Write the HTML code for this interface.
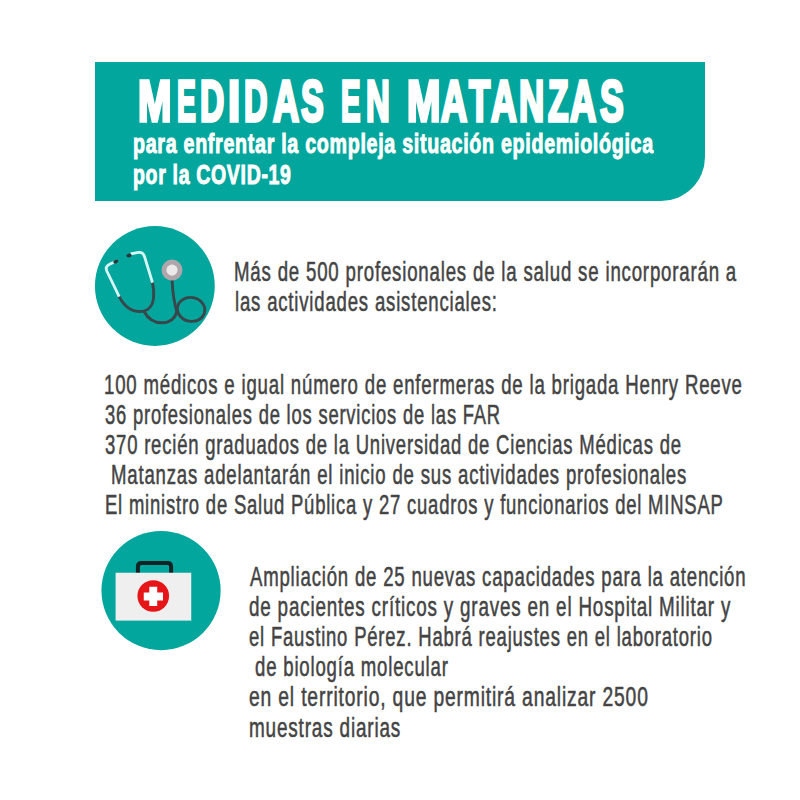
<!DOCTYPE html>
<html><head><meta charset="utf-8">
<style>
html,body{margin:0;padding:0;background:#fff;}
body{width:800px;height:800px;position:relative;overflow:hidden;font-family:"Liberation Sans",sans-serif;}
.t{position:absolute;white-space:pre;line-height:1;transform-origin:0 0;}
.banner{position:absolute;left:94.5px;top:62px;width:610.5px;height:139.4px;background:#03a69c;border-bottom-right-radius:44px;}
svg{position:absolute;left:0;top:0;}
</style></head><body>
<div class="banner"></div>
<svg width="800" height="800" viewBox="0 0 800 800">
  <circle cx="154.85" cy="286" r="59.9" fill="#03a69c"/>
  <!-- stethoscope -->
  <g fill="none" stroke-linecap="round" stroke-linejoin="round" stroke="#37474c" stroke-width="2.9">
    <path d="M119.2,296.6 C124,306 131,311.5 140,311.5 C148,311.5 153,306 153.6,297 C154,291 153.5,287 152.5,282.6"/>
    <path d="M144,311.5 C147,317 153,322.8 162,322.8 C170,322.8 175.5,318 176.8,311.5"/>
    <path d="M172.2,281 C172.5,290 173.5,300 176.8,311.5"/>
    <ellipse cx="191.1" cy="309.4" rx="13.8" ry="11.9" transform="rotate(10 191.1 309.4)"/>
  </g>
  <g fill="none" stroke-linecap="butt" stroke-linejoin="round" stroke="#d6f8f5" stroke-width="2.8">
    <path d="M117.5,260.8 L110,264 Q104.8,266.5 106.8,271 L119.2,296.6"/>
    <path d="M130.5,253.8 L138.5,252.4 Q143,251.8 144.5,256.5 L152.5,282.6"/>
  </g>
  <ellipse cx="115.8" cy="261.6" rx="2.6" ry="1.9" fill="#26373a" transform="rotate(-25 115.8 261.6)"/>
  <ellipse cx="129" cy="255.5" rx="2.6" ry="1.9" fill="#26373a" transform="rotate(-12 129 255.5)"/>
  <circle cx="172" cy="270.1" r="10.5" fill="#aea6aa"/>
  <circle cx="172" cy="270.1" r="5.6" fill="#ebe9ea"/>

  <circle cx="161.05" cy="590.55" r="59.6" fill="#03a69c"/>
  <!-- kit -->
  <path d="M137.9,573 L137.9,566.5 Q137.9,563 141.4,563 L167.6,563 Q171.1,563 171.1,566.5 L171.1,573" fill="none" stroke="#112425" stroke-width="4"/>
  <rect x="115.6" y="572.75" width="75.65" height="47.85" fill="#efefef"/>
  <circle cx="153.25" cy="596" r="15.8" fill="#e51518"/>
  <rect x="143.75" y="592.5" width="19.25" height="8" fill="#fff"/>
  <rect x="149.3" y="586.75" width="7.9" height="19.25" fill="#fff"/>
</svg>
<div class="t" style="left:138.49px;top:72.53px;font-size:57.5px;font-weight:bold;color:#fff;-webkit-text-stroke:3.4px #fff;transform:scaleX(0.7000)">M</div>
<div class="t" style="left:176.94px;top:72.53px;font-size:57.5px;font-weight:bold;color:#fff;-webkit-text-stroke:3.4px #fff;transform:scaleX(0.4912)">E</div>
<div class="t" style="left:199.74px;top:72.53px;font-size:57.5px;font-weight:bold;color:#fff;-webkit-text-stroke:3.4px #fff;transform:scaleX(0.5831)">D</div>
<div class="t" style="left:228.33px;top:72.53px;font-size:57.5px;font-weight:bold;color:#fff;-webkit-text-stroke:3.4px #fff;transform:scaleX(0.7730)">I</div>
<div class="t" style="left:244.37px;top:72.53px;font-size:57.5px;font-weight:bold;color:#fff;-webkit-text-stroke:3.4px #fff;transform:scaleX(0.5675)">D</div>
<div class="t" style="left:272.89px;top:72.53px;font-size:57.5px;font-weight:bold;color:#fff;-webkit-text-stroke:3.4px #fff;transform:scaleX(0.6278)">A</div>
<div class="t" style="left:301.39px;top:72.53px;font-size:57.5px;font-weight:bold;color:#fff;-webkit-text-stroke:3.4px #fff;transform:scaleX(0.5922)">S</div>
<div class="t" style="left:341.40px;top:72.53px;font-size:57.5px;font-weight:bold;color:#fff;-webkit-text-stroke:3.4px #fff;transform:scaleX(0.5080)">E</div>
<div class="t" style="left:366.27px;top:72.53px;font-size:57.5px;font-weight:bold;color:#fff;-webkit-text-stroke:3.4px #fff;transform:scaleX(0.5714)">N</div>
<div class="t" style="left:406.99px;top:72.53px;font-size:57.5px;font-weight:bold;color:#fff;-webkit-text-stroke:3.4px #fff;transform:scaleX(0.7000)">M</div>
<div class="t" style="left:440.90px;top:72.53px;font-size:57.5px;font-weight:bold;color:#fff;-webkit-text-stroke:3.4px #fff;transform:scaleX(0.6301)">A</div>
<div class="t" style="left:469.39px;top:72.53px;font-size:57.5px;font-weight:bold;color:#fff;-webkit-text-stroke:3.4px #fff;transform:scaleX(0.6038)">T</div>
<div class="t" style="left:491.39px;top:72.53px;font-size:57.5px;font-weight:bold;color:#fff;-webkit-text-stroke:3.4px #fff;transform:scaleX(0.6185)">A</div>
<div class="t" style="left:518.69px;top:72.53px;font-size:57.5px;font-weight:bold;color:#fff;-webkit-text-stroke:3.4px #fff;transform:scaleX(0.6050)">N</div>
<div class="t" style="left:548.00px;top:72.53px;font-size:57.5px;font-weight:bold;color:#fff;-webkit-text-stroke:3.4px #fff;transform:scaleX(0.5829)">Z</div>
<div class="t" style="left:570.40px;top:72.53px;font-size:57.5px;font-weight:bold;color:#fff;-webkit-text-stroke:3.4px #fff;transform:scaleX(0.6301)">A</div>
<div class="t" style="left:600.15px;top:72.53px;font-size:57.5px;font-weight:bold;color:#fff;-webkit-text-stroke:3.4px #fff;transform:scaleX(0.6185)">S</div>
<div class="t" style="left:132.61px;top:129.80px;font-size:28px;font-weight:bold;color:#ffffff;-webkit-text-stroke:1.0px #ffffff;letter-spacing:1.0px;transform:scaleX(0.7021)">para enfrentar la compleja situación epidemiológica</div>
<div class="t" style="left:132.61px;top:160.80px;font-size:28px;font-weight:bold;color:#ffffff;-webkit-text-stroke:1.0px #ffffff;letter-spacing:1.0px;transform:scaleX(0.6951)">por la COVID-19</div>
<div class="t" style="left:234.14px;top:258.02px;font-size:27.5px;font-weight:normal;color:#444444;-webkit-text-stroke:0.55px #444444;letter-spacing:1.2px;transform:scaleX(0.6779)">Más de 500 profesionales de la salud se incorporarán a</div>
<div class="t" style="left:235.33px;top:287.82px;font-size:27.5px;font-weight:normal;color:#444444;-webkit-text-stroke:0.55px #444444;letter-spacing:1.2px;transform:scaleX(0.6752)">las actividades asistenciales:</div>
<div class="t" style="left:104.21px;top:370.52px;font-size:27.5px;font-weight:normal;color:#444444;-webkit-text-stroke:0.55px #444444;letter-spacing:1.2px;transform:scaleX(0.6763)">100 médicos e igual número de enfermeras de la brigada Henry Reeve</div>
<div class="t" style="left:104.85px;top:400.52px;font-size:27.5px;font-weight:normal;color:#444444;-webkit-text-stroke:0.55px #444444;letter-spacing:1.2px;transform:scaleX(0.6684)">36 profesionales de los servicios de las FAR</div>
<div class="t" style="left:104.84px;top:430.82px;font-size:27.5px;font-weight:normal;color:#444444;-webkit-text-stroke:0.55px #444444;letter-spacing:1.2px;transform:scaleX(0.6715)">370 recién graduados de la Universidad de Ciencias Médicas de</div>
<div class="t" style="left:110.74px;top:461.02px;font-size:27.5px;font-weight:normal;color:#444444;-webkit-text-stroke:0.55px #444444;letter-spacing:1.2px;transform:scaleX(0.6760)">Matanzas adelantarán el inicio de sus actividades profesionales</div>
<div class="t" style="left:104.95px;top:491.32px;font-size:27.5px;font-weight:normal;color:#444444;-webkit-text-stroke:0.55px #444444;letter-spacing:1.2px;transform:scaleX(0.6705)">El ministro de Salud Pública y 27 cuadros y funcionarios del MINSAP</div>
<div class="t" style="left:249.62px;top:562.62px;font-size:27.5px;font-weight:normal;color:#444444;-webkit-text-stroke:0.55px #444444;letter-spacing:1.2px;transform:scaleX(0.6753)">Ampliación de 25 nuevas capacidades para la atención</div>
<div class="t" style="left:248.95px;top:592.82px;font-size:27.5px;font-weight:normal;color:#444444;-webkit-text-stroke:0.55px #444444;letter-spacing:1.2px;transform:scaleX(0.6841)">de pacientes críticos y graves en el Hospital Militar y</div>
<div class="t" style="left:248.94px;top:623.02px;font-size:27.5px;font-weight:normal;color:#444444;-webkit-text-stroke:0.55px #444444;letter-spacing:1.2px;transform:scaleX(0.6715)">el Faustino Pérez. Habrá reajustes en el laboratorio</div>
<div class="t" style="left:254.85px;top:653.22px;font-size:27.5px;font-weight:normal;color:#444444;-webkit-text-stroke:0.55px #444444;letter-spacing:1.2px;transform:scaleX(0.6757)">de biología molecular</div>
<div class="t" style="left:248.92px;top:683.42px;font-size:27.5px;font-weight:normal;color:#444444;-webkit-text-stroke:0.55px #444444;letter-spacing:1.2px;transform:scaleX(0.7004)">en el territorio, que permitirá analizar 2500</div>
<div class="t" style="left:248.81px;top:713.62px;font-size:27.5px;font-weight:normal;color:#444444;-webkit-text-stroke:0.55px #444444;letter-spacing:1.2px;transform:scaleX(0.6884)">muestras diarias</div>
</body></html>
